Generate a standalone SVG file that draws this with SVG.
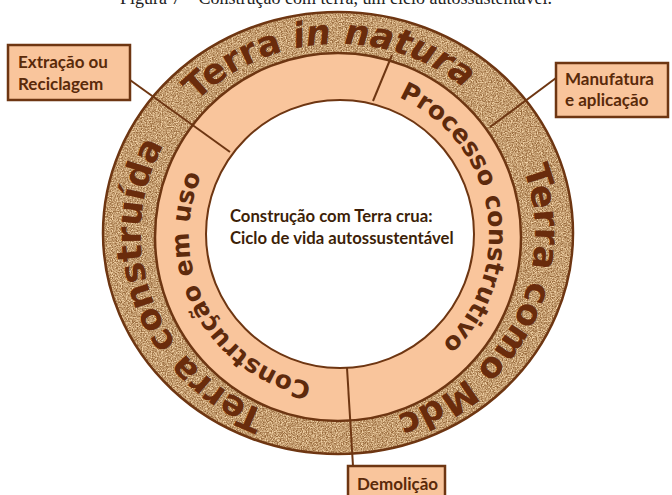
<svg xmlns="http://www.w3.org/2000/svg" xmlns:xlink="http://www.w3.org/1999/xlink" width="672" height="495" viewBox="0 0 672 495">
<style>
.ring-stroke{fill:none;stroke:#6e3612;stroke-width:2.5}
.conn{stroke:#6e3612;stroke-width:2;fill:none}
.box{fill:#f9c59c;stroke:#6e3612;stroke-width:2.5}
.boxtxt{font-family:Lato,"Open Sans",sans-serif;font-weight:700;font-size:17px;fill:#5a2a0a}
.outer-txt{font-family:"DejaVu Sans",Verdana,sans-serif;font-weight:700;font-size:35px;fill:#6a2c0c}
.mid-txt{font-family:"DejaVu Sans",Verdana,sans-serif;font-weight:700;font-size:25px;fill:#5e2a0c}
.center-txt{font-family:Lato,"Open Sans",sans-serif;font-weight:700;font-size:16.7px;fill:#3d1f08}
.caption{font-family:"Liberation Serif",serif;font-size:18px;fill:#222}
</style>
<defs>
<filter id="cork" x="0" y="0" width="100%" height="100%" color-interpolation-filters="sRGB">
<feTurbulence type="fractalNoise" baseFrequency="0.8" numOctaves="3" seed="7" result="t"/>
<feColorMatrix in="t" type="matrix" values="0.33 0.33 0.33 0 0 0.33 0.33 0.33 0 0 0.33 0.33 0.33 0 0 0 0 0 0 1" result="g"/>
<feComponentTransfer in="g" result="c">
<feFuncR type="linear" slope="4" intercept="-1.5"/>
<feFuncG type="linear" slope="4" intercept="-1.5"/>
<feFuncB type="linear" slope="4" intercept="-1.5"/>
</feComponentTransfer>
<feComponentTransfer in="c" result="col">
<feFuncR type="table" tableValues="0.60 0.95"/>
<feFuncG type="table" tableValues="0.42 0.83"/>
<feFuncB type="table" tableValues="0.24 0.66"/>
</feComponentTransfer>
<feComposite in="col" in2="SourceAlpha" operator="in"/>
</filter>
<path id="p-natura" d="M146.05,276.75 A197,190 0 1 1 533.5,257.2"/>
<path id="p-mdc" d="M385.66,49.64 A197,190 0 1 1 227.84,391.5"/>
<path id="p-construida" d="M436.5,398.5 A197,190 0 1 1 303.8,46.9"/>
<path id="p-processo" d="M287.7,94.05 A150,150 0 1 1 339,385"/>
<path id="p-uso" d="M431.35,353.2 A150,150 0 1 1 292.65,92.34"/>
</defs>
<rect width="672" height="495" fill="#fff"/>
<text class="caption" x="336" y="4" text-anchor="middle">Figura 7 – Construção com terra, um ciclo autossustentável.</text>

<g id="outer-ring">
<ellipse cx="338" cy="233" rx="235" ry="221" fill="#c49a6c" filter="url(#cork)"/>
<ellipse class="ring-stroke" cx="338" cy="233" rx="235" ry="221"/>
</g>
<g id="inner-ring">
<ellipse cx="338" cy="237" rx="183" ry="184" fill="#f9c59c" stroke="#6e3612" stroke-width="2.5"/>
</g>
<g id="center">
<circle cx="340" cy="234" r="134" fill="#fff" stroke="#6e3612" stroke-width="2"/>
<text class="center-txt" x="230" y="222">Construção com Terra crua:</text>
<text class="center-txt" x="230" y="244">Ciclo de vida autossustentável</text>
</g>

<g id="connectors">
<line class="conn" x1="130" y1="80" x2="230" y2="152"/>
<line class="conn" x1="556" y1="78" x2="490" y2="127"/>
<line class="conn" x1="392" y1="55" x2="373" y2="101"/>
<line class="conn" x1="347" y1="368" x2="353" y2="466"/>
</g>

<g id="label-terra-natura">
<text class="outer-txt"><textPath xlink:href="#p-natura" href="#p-natura" startOffset="50%" text-anchor="middle">Terra <tspan font-style="italic">in natura</tspan></textPath></text>
</g>
<g id="label-terra-mdc">
<text class="outer-txt"><textPath xlink:href="#p-mdc" href="#p-mdc" startOffset="51%" text-anchor="middle">Terra como Mdc</textPath></text>
</g>
<g id="label-terra-construida">
<text class="outer-txt"><textPath xlink:href="#p-construida" href="#p-construida" startOffset="50%" text-anchor="middle">Terra construída</textPath></text>
</g>
<g id="label-processo">
<text class="mid-txt"><textPath xlink:href="#p-processo" href="#p-processo" startOffset="50%" text-anchor="middle">Processo construtivo</textPath></text>
</g>
<g id="label-uso">
<text class="mid-txt"><textPath xlink:href="#p-uso" href="#p-uso" startOffset="50%" text-anchor="middle">Construção em uso</textPath></text>
</g>

<g id="box-extracao">
<rect class="box" x="8" y="45" width="122" height="55"/>
<text class="boxtxt" x="18" y="68">Extração ou</text>
<text class="boxtxt" x="18" y="90">Reciclagem</text>
</g>
<g id="box-manufatura">
<rect class="box" x="556" y="63" width="112" height="54"/>
<text class="boxtxt" x="565" y="85">Manufatura</text>
<text class="boxtxt" x="565" y="106">e aplicação</text>
</g>
<g id="box-demolicao">
<rect class="box" x="348" y="466" width="97" height="40"/>
<text class="boxtxt" x="357" y="490">Demolição</text>
</g>
</svg>
